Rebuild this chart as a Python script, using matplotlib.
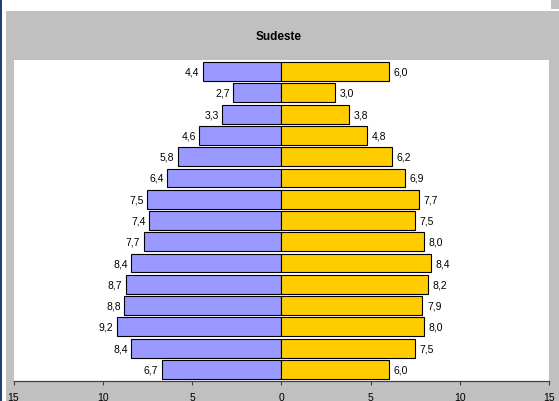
import matplotlib
matplotlib.use("Agg")
import matplotlib.pyplot as plt
from matplotlib.patches import Rectangle
import numpy as np

plt.rcParams['font.family'] = ['Liberation Sans', 'DejaVu Sans']

title = "Sudeste"
left_vals = [4.4, 2.7, 3.3, 4.6, 5.8, 6.4, 7.5, 7.4, 7.7, 8.4, 8.7, 8.8, 9.2, 8.4, 6.7]
right_vals = [6.0, 3.0, 3.8, 4.8, 6.2, 6.9, 7.7, 7.5, 8.0, 8.4, 8.2, 7.9, 8.0, 7.5, 6.0]
tick_vals = [-15, -10, -5, 0, 5, 10, 15]
tick_labels = ["15", "10", "5", "0", "5", "10", "15"]

W, H = 559, 402
fig = plt.figure(figsize=(W / 100, H / 100), dpi=100)
fig.patch.set_facecolor('white')

# gray chart background
fig.add_artist(Rectangle((6 / W, 0), 1 - 6 / W, 1 - 12 / H, transform=fig.transFigure,
                         facecolor='#C0C0C0', edgecolor='none', zorder=0))
fig.add_artist(Rectangle((551 / W, 1 - 10 / H), 8 / W, 10 / H, transform=fig.transFigure,
                         facecolor='#C0C0C0', edgecolor='none', zorder=0))
fig.add_artist(Rectangle((0, 0), 2 / W, 1, transform=fig.transFigure,
                         facecolor='#1F3F7F', edgecolor='none', zorder=0))

ax = fig.add_axes([13.5 / W, 1 - 382 / H, (549.3 - 13.5) / W, (382 - 61) / H])
ax.set_facecolor('white')
ax.set_zorder(1)

n = len(left_vals)
y = np.arange(n)
lv = -np.array(left_vals)
rv = np.array(right_vals)
ax.barh(y, lv, height=0.89, color='#9999FF', edgecolor='black', linewidth=0.8)
ax.barh(y, rv, height=0.89, color='#FFCC00', edgecolor='black', linewidth=0.8)

for yi, v in zip(y, left_vals):
    ax.text(-v - 0.2, yi, f"{v:.1f}".replace('.', ','), ha='right', va='center', fontsize=7.5)
for yi, v in zip(y, right_vals):
    ax.text(v + 0.25, yi, f"{v:.1f}".replace('.', ','), ha='left', va='center', fontsize=7.5)

ax.set_xlim(-15, 15)
ax.set_ylim(n - 0.45, -0.55)
ax.set_yticks([])
ax.set_xticks(tick_vals)
ax.set_xticklabels(tick_labels, fontsize=7.5)
ax.tick_params(axis='x', length=3, width=0.8, color='#404040', pad=5)
for s in ['top', 'left', 'right']:
    ax.spines[s].set_visible(False)
ax.spines['bottom'].set_color('#404040')
ax.spines['bottom'].set_linewidth(0.9)

fig.text(279 / W, 1 - 37 / H, title, ha='center', va='center', fontsize=8.5, fontweight='bold')

fig.savefig('out.png', dpi=100)
